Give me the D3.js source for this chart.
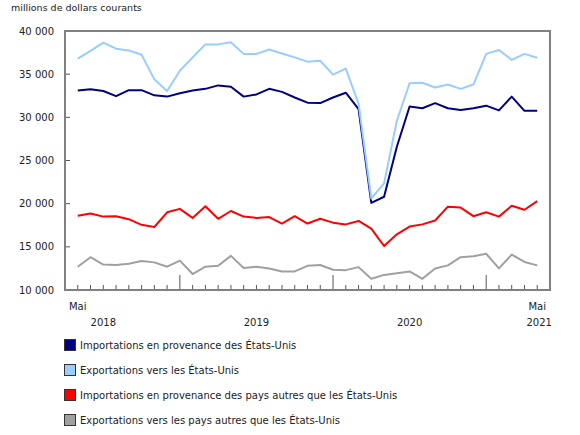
<!DOCTYPE html>
<html lang="fr">
<head>
    <meta charset="UTF-8">
    <title>Commerce international</title>
    <script src="https://d3js.org/d3.v7.min.js"></script>
    <style>
        body { margin: 0; background: #fff; }
        text { font-family: "DejaVu Sans", Verdana, sans-serif; font-size: 10px; fill: #222; }
        .title { font-size: 9.5px; }
        .frame { fill: none; stroke: #808080; stroke-width: 2px; }
        .tick { stroke: #555; stroke-width: 1px; }
        .series { fill: none; stroke-width: 2px; stroke-linejoin: round; }
    </style>
</head>
<body>
    <svg width="580" height="435"></svg>

    <script>
        // mois : mai 2018 -> mai 2021
        const months = [
            "2018-05","2018-06","2018-07","2018-08","2018-09","2018-10","2018-11","2018-12",
            "2019-01","2019-02","2019-03","2019-04","2019-05","2019-06","2019-07","2019-08",
            "2019-09","2019-10","2019-11","2019-12","2020-01","2020-02","2020-03","2020-04",
            "2020-05","2020-06","2020-07","2020-08","2020-09","2020-10","2020-11","2020-12",
            "2021-01","2021-02","2021-03","2021-04","2021-05"
        ];

        const importsUS = [
            33100, 33250, 33050, 32450, 33150, 33150, 32550, 32400, 32800, 33100, 33300, 33700,
            33550, 32400, 32650, 33300, 32950, 32300, 31700, 31650, 32300, 32850, 30950, 20100,
            20800, 26600, 31250, 31050, 31650, 31050, 30850, 31050, 31350, 30800, 32400, 30750, 30750
        ];
        const exportsUS = [
            36800, 37700, 38650, 37950, 37750, 37250, 34400, 33050, 35400, 36950, 38450, 38450,
            38700, 37350, 37350, 37850, 37400, 36950, 36450, 36550, 34950, 35650, 31600, 20600,
            22350, 29600, 33950, 34000, 33450, 33800, 33300, 33800, 37350, 37800, 36650, 37350, 36900
        ];
        const importsOther = [
            18600, 18850, 18500, 18550, 18200, 17550, 17300, 19000, 19400, 18350, 19700, 18250,
            19150, 18500, 18350, 18450, 17700, 18550, 17700, 18250, 17800, 17600, 18000, 17100,
            15100, 16450, 17350, 17600, 18050, 19650, 19550, 18550, 19000, 18500, 19750, 19300, 20300
        ];
        const exportsOther = [
            12700, 13800, 12950, 12900, 13050, 13350, 13200, 12700, 13400, 11850, 12700, 12800,
            13950, 12550, 12700, 12500, 12150, 12150, 12800, 12900, 12350, 12300, 12650, 11300,
            11750, 11950, 12150, 11300, 12500, 12850, 13800, 13900, 14200, 12500, 14100, 13250, 12850
        ];

        const yTicks = [10000, 15000, 20000, 25000, 30000, 35000, 40000];
        const years = ["2018", "2019", "2020", "2021"];

        const seriesNames = [
            "Importations en provenance des États-Unis",
            "Exportations vers les États-Unis",
            "Importations en provenance des pays autres que les États-Unis",
            "Exportations vers les pays autres que les États-Unis"
        ];
        const seriesValues = [importsUS, exportsUS, importsOther, exportsOther];
        const colors = ["#000080", "#99ccff", "#ff0000", "#a0a0a0"];

        const svg = d3.select("svg");

        const plotLeft = 65, plotRight = 550, plotTop = 31, plotBottom = 290;

        const x = d3.scalePoint().domain(months).range([plotLeft, plotRight]).padding(1);
        const y = d3.scaleLinear().domain([10000, 40000]).range([plotBottom, plotTop]);
        const fmt = v => d3.format(",")(v).replace(",", " ");

        // titre de l'axe
        svg.append("text")
            .attr("class", "title")
            .attr("x", 11)
            .attr("y", 11)
            .text("millions de dollars courants");

        // axe Y : étiquettes et petites marques vers l'intérieur
        yTicks.forEach(v => {
            svg.append("line").attr("class", "tick")
                .attr("x1", plotLeft).attr("x2", plotLeft + 5)
                .attr("y1", y(v)).attr("y2", y(v));
            svg.append("text")
                .attr("x", 54)
                .attr("y", y(v) + 3.5)
                .attr("text-anchor", "end")
                .text(fmt(v));
        });

        // axe X : une marque par mois, plus longue en janvier
        months.forEach(m => {
            const big = m.endsWith("-01");
            svg.append("line").attr("class", "tick")
                .attr("x1", x(m)).attr("x2", x(m))
                .attr("y1", plotBottom).attr("y2", plotBottom - (big ? 15 : 5));
        });

        const step = x.step();
        const firstM = months[0], lastM = months[months.length - 1];

        svg.append("text").attr("x", x(firstM)).attr("y", 309.5)
            .attr("text-anchor", "middle").text("Mai");
        svg.append("text").attr("x", x(lastM)).attr("y", 309.5)
            .attr("text-anchor", "middle").text("Mai");

        // années centrées entre les marques de janvier
        years.forEach(yr => {
            const jan = x(yr + "-01");
            const nextJan = x((+yr + 1) + "-01");
            let cx;
            if (jan !== undefined && nextJan !== undefined) {
                cx = (jan + nextJan) / 2;
            } else if (nextJan !== undefined) {
                cx = nextJan - 6 * step;
            } else {
                cx = x(lastM) + 2;
            }
            svg.append("text").attr("x", cx).attr("y", 325.5)
                .attr("text-anchor", "middle").text(yr);
        });

        // séries
        const line = d3.line()
            .x((d, i) => x(months[i]))
            .y(d => y(d));

        seriesValues.forEach((vals, i) => {
            svg.append("path")
                .attr("class", "series")
                .attr("stroke", colors[i])
                .attr("d", line(vals));
        });

        // cadre
        svg.append("rect").attr("class", "frame")
            .attr("x", plotLeft).attr("y", plotTop)
            .attr("width", plotRight - plotLeft).attr("height", plotBottom - plotTop);

        // légende
        const legend = svg.append("g");
        seriesNames.forEach((name, i) => {
            const cy = 345 + i * 25;
            legend.append("rect")
                .attr("x", 64.5).attr("y", cy - 5.5)
                .attr("width", 11).attr("height", 11)
                .attr("fill", colors[i])
                .attr("stroke", "#333");
            legend.append("text")
                .attr("x", 80)
                .attr("y", cy + 3.5)
                .text(name);
        });
    </script>
</body>
</html>
